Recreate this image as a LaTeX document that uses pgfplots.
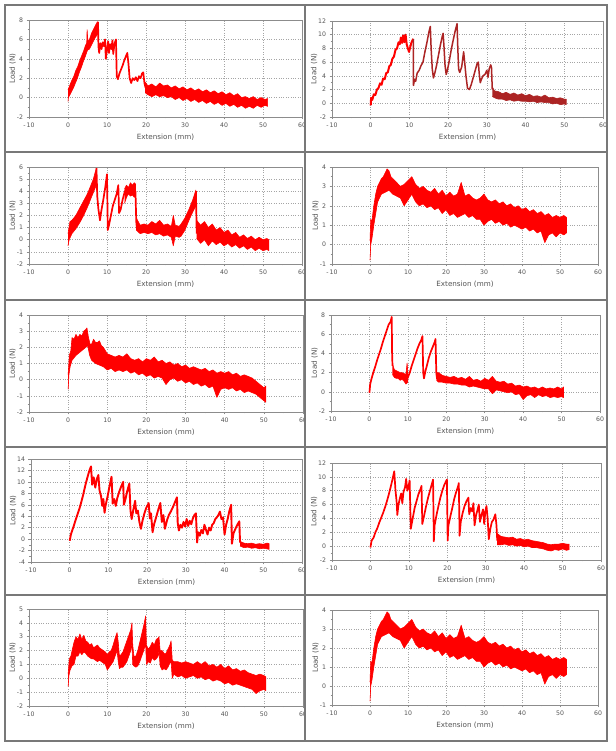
\documentclass[border=0pt]{standalone}
\usepackage{pgfplots}
\pgfplotsset{compat=1.18}
\usepackage{pgfplotstable}
\usepackage{fontspec}
\setmainfont{DejaVu Sans}
\definecolor{txt}{RGB}{85,85,85}
\definecolor{framec}{RGB}{140,140,140}
\definecolor{gridc}{RGB}{165,165,165}
\definecolor{dred}{RGB}{172,36,36}
\definecolor{brd}{RGB}{120,120,120}
\pgfplotsset{
 panel/.style={
  scale only axis, xmin=-10, xmax=60,
  xtick={-10,0,10,20,30,40,50,60},
  xticklabels={-\,10,0,10,20,30,40,50,60},
  minor x tick num=1, minor y tick num=1,
  xtick pos=left, ytick pos=left,
  tick align=outside,
  major tick length=2.5pt, minor tick length=1.5pt,
  grid=major,
  major grid style={dotted, gridc, line width=0.5pt},
  axis line style={framec, line width=0.6pt},
  tick style={framec, line width=0.5pt},
  ticklabel style={font=\fontsize{6.2}{7}\selectfont, text=txt},
  /pgf/number format/assume math mode=true,
  xlabel={Extension (mm)}, ylabel={Load (N)},
  label style={font=\fontsize{7.2}{8}\selectfont, text=txt},
  ylabel shift=-6pt,
  xlabel shift=-1pt,
  no markers,
  anchor=south west,
 },
 sawl/.style={red, line width=1.7pt, line join=round},
 band/.style={red, fill=red, line width=0.6pt, line join=round},
}
\pgfplotstableread[row sep=\\]{
x y\\
0 0.2\\ 0.2 1.3\\ 0.5 1.2\\ 1 2.0\\ 1.5 2.6\\ 2 3.0\\ 2.5 3.2\\ 3 3.4\\ 3.5 3.5\\ 4 3.7\\ 4.5 3.9\\ 5 3.8\\ 5.5 3.5\\ 6 3.4\\ 7 3.2\\ 8 3.0\\ 9 3.1\\ 10 3.3\\ 11 3.5\\ 12 3.1\\ 13 2.9\\ 14 3.0\\ 15 2.8\\ 16 2.7\\ 17 2.9\\ 18 2.6\\ 19 2.8\\ 20 2.5\\ 21 2.7\\ 22 2.5\\ 23 2.6\\ 24 3.2\\ 25 2.5\\ 26 2.6\\ 27 2.4\\ 28 2.3\\ 29 2.4\\ 30 2.6\\ 31 2.3\\ 32 2.2\\ 33 2.3\\ 34 2.1\\ 35 2.2\\ 36 2.0\\ 37 2.1\\ 38 1.9\\ 39 2.0\\ 40 1.8\\ 41 1.9\\ 42 1.7\\ 43 1.8\\ 44 1.6\\ 45 1.7\\ 46 1.5\\ 47 1.6\\ 48 1.4\\ 49 1.5\\ 50 1.4\\ 51 1.5\\ 51.7 1.4\\
51.7 0.6\\ 51 0.5\\ 50 0.6\\ 49 0.4\\ 48 0.6\\ 47 0.5\\ 46 0.1\\ 45 0.7\\ 44 0.6\\ 43 0.8\\ 42 0.7\\ 41 0.9\\ 40 0.8\\ 39 0.9\\ 38 1.0\\ 37 0.9\\ 36 1.1\\ 35 1.0\\ 34 1.2\\ 33 1.1\\ 32 1.3\\ 31 1.2\\ 30 1.0\\ 29 1.3\\ 28 1.3\\ 27 1.5\\ 26 1.4\\ 25 1.6\\ 24 1.5\\ 23 1.4\\ 22 1.6\\ 21 1.5\\ 20 1.8\\ 19 1.6\\ 18 1.9\\ 17 1.8\\ 16 2.0\\ 15 1.9\\ 14 2.1\\ 13 2.0\\ 12 2.2\\ 11 2.6\\ 10 2.3\\ 9 2.0\\ 8 2.4\\ 7 2.5\\ 6 2.6\\ 5 2.8\\ 4 2.7\\ 3 2.6\\ 2 2.2\\ 1 1.0\\ 0.5 0.3\\ 0.2 0\\ 0 -0.8\\
}\bandfour
\begin{document}
\begin{tikzpicture}
\useasboundingbox (0pt,0pt) rectangle (615pt,751pt);
\fill[white] (0pt,0pt) rectangle (615pt,751pt);
% ---------------- left column ----------------
\begin{scope}
\clip (5pt,10pt) rectangle (305pt,746pt);
% P1
\begin{axis}[panel, at={(29pt,634pt)}, width=273pt, height=97pt, ymin=-2, ymax=8, ytick={-2,0,...,8}]
\addplot[band] coordinates {(0,0.8) (0.5,1.3) (1,1.8) (1.5,2.2) (2,2.8) (2.5,3.2) (3,3.8) (3.5,4.3) (4,4.8) (4.5,5.4) (4.8,5.6) (4.9,7.0) (5.1,5.8) (5.5,6.0) (6,6.6) (6.5,7.0) (7,7.4) (7.5,7.8) (7.7,7.8) (7.7,6.6) (7,6.2) (6.5,5.8) (6,5.4) (5.5,5.0) (5,4.9) (4.5,4.3) (4,3.8) (3.5,3.2) (3,2.7) (2.5,2.1) (2,1.6) (1.5,1.1) (1,0.7) (0.5,0.3) (0.1,0.0) (0,-0.4)};
\addplot[sawl] coordinates {(7.7,7.8) (7.8,5.3) (8.0,4.6) (8.3,5.6) (8.6,5.0) (8.9,5.7) (9.2,5.3) (9.5,6.0) (9.7,4.0) (10.0,5.0) (10.3,5.8) (10.5,4.6) (10.8,5.5) (11.1,5.0) (11.4,5.9) (11.6,4.5) (11.9,5.5) (12.3,6.0) (12.5,2.2) (12.8,1.9) (13.2,2.5) (13.6,2.9) (14.0,3.3) (14.4,3.8) (14.8,4.2) (15.2,4.6) (15.5,3.5) (15.8,2.0) (16.2,1.5) (16.6,2.0) (17.0,1.8) (17.4,2.1) (17.8,1.7) (18.2,2.2) (18.6,2.0) (19.0,2.5) (19.3,2.6) (19.6,1.5) (19.9,1.0)};
\addplot[band] coordinates {(19.8,1.6) (20.5,1.2) (21.5,1.4) (22.5,1.1) (23.5,1.5) (24.5,1.2) (25.5,1.3) (26.5,1.0) (27.5,1.2) (28.5,0.9) (29.5,1.1) (30.5,0.8) (31.5,1.0) (32.5,0.7) (33.5,0.9) (34.5,0.6) (35.5,0.8) (36.5,0.5) (37.5,0.7) (38.5,0.4) (39.5,0.6) (40.5,0.3) (41.5,0.5) (42.5,0.2) (43.5,0.4) (44.5,0.0) (45.5,0.1) (46.5,-0.1) (47.5,0.1) (48.5,-0.2) (49.5,0.0) (50.5,-0.2) (51.2,-0.1)
 (51.2,-0.9) (50.5,-0.8) (49.5,-1.0) (48.5,-0.8) (47.5,-1.1) (46.5,-0.9) (45.5,-1.1) (44.5,-0.8) (43.5,-1.0) (42.5,-0.7) (41.5,-0.9) (40.5,-0.6) (39.5,-0.8) (38.5,-0.5) (37.5,-0.7) (36.5,-0.4) (35.5,-0.6) (34.5,-0.3) (33.5,-0.5) (32.5,-0.2) (31.5,-0.4) (30.5,-0.1) (29.5,-0.3) (28.5,0.0) (27.5,-0.2) (26.5,0.1) (25.5,0.0) (24.5,0.2) (23.5,0.1) (22.5,0.3) (21.5,0.1) (20.5,0.3) (19.8,0.5)};
\end{axis}
% P3
\begin{axis}[panel, at={(29pt,487pt)}, width=273pt, height=97pt, ymin=-2, ymax=6, ytick={-2,-1,...,6}]
\addplot[band] coordinates {(0,0.5) (0.5,1.5) (1,1.6) (2,2.0) (3,2.6) (4,3.2) (5,3.8) (6,4.6) (6.5,5.0) (7,5.6) (7.3,5.9) (7.3,4.5) (7,4.3) (6,3.5) (5,2.7) (4,2.0) (3,1.4) (2,0.9) (1,0.5) (0.3,0) (0,-0.5)};
\addplot[sawl] coordinates {(7.3,5.9) (7.5,3.6) (7.8,2.5) (8.2,1.6) (8.5,2.3) (9.0,3.2) (9.5,4.2) (10.0,5.4) (10.2,0.8) (10.5,1.2) (11,2.0) (11.5,2.8) (12,3.3) (12.5,3.8) (12.9,4.5) (13.1,2.2) (13.5,2.5) (14,3.3) (14.5,3.9) (15,4.3)};
\addplot[band] coordinates {(14.5,4.2) (15,4.5) (15.5,4.3) (16,4.7) (16.5,4.5) (17,4.7) (17.3,4.6) (17.3,3.6) (17,3.5) (16.5,3.7) (16,3.6) (15.5,3.8) (15,3.5) (14.5,3.0)};
\addplot[sawl] coordinates {(17.3,4.0) (17.5,1.5) (17.7,0.8)};
\addplot[band] coordinates {(17.5,1.8) (18.5,1.2) (19.5,1.3) (20.5,1.2) (21.5,1.5) (22.5,1.3) (23.5,1.6) (24.5,1.2) (25.5,1.3) (26.5,1.1) (27,2.0) (27.5,1.2) (28.5,1.1) (29,1.3) (30,1.8) (31,2.5) (32,3.3) (32.8,4.1) (32.8,2.8) (32,2.3) (31,1.6) (30,0.8) (29,0.3) (28.5,0.2) (27.5,0.3) (27,-0.5) (26.5,0.2) (25.5,0.4) (24.5,0.3) (23.5,0.5) (22.5,0.4) (21.5,0.6) (20.5,0.5) (19.5,0.6) (18.5,0.5) (17.5,0.8)};
\addplot[sawl] coordinates {(32.8,4.0) (33,0.5)};
\addplot[band] coordinates {(33,1.6) (34,1.2) (35,1.5) (36,1.0) (37,1.3) (38,0.8) (39,1.0) (40,0.6) (41,0.8) (42,0.4) (43,0.6) (44,0.2) (45,0.4) (46,0.1) (47,0.3) (48,0.0) (49,0.2) (50,0.0) (51,0.1) (51.5,0.0) (51.5,-0.9) (51,-0.8) (50,-0.9) (49,-0.7) (48,-0.9) (47,-0.6) (46,-0.8) (45,-0.5) (44,-0.7) (43,-0.4) (42,-0.6) (41,-0.3) (40,-0.5) (39,-0.2) (38,-0.4) (37,-0.1) (36,-0.5) (35,0.0) (34,-0.3) (33,0.1)};
\end{axis}
% P5
\begin{axis}[panel, at={(29pt,339pt)}, width=274pt, height=97pt, ymin=-2, ymax=4, ytick={-2,-1,...,4}]
\addplot[band] coordinates {(0,0.3) (0.3,1.5) (0.7,1.8) (1,2.6) (1.5,2.5) (2,2.8) (2.5,2.6) (3,2.8) (3.5,2.7) (4,3.0) (4.5,3.1) (4.8,3.2) (5.2,2.6) (5.6,2.2) (6,2.2) (6.5,2.5) (7,2.3) (7.5,2.3) (8,2.4) (8.5,2.1) (9,2.0) (10,1.6) (11,1.5) (12,1.4) (13,1.5) (14,1.4) (15,1.6) (16,1.3) (17,1.2) (18,1.3) (19,1.1) (20,1.3) (21,1.2) (22,1.4) (23,1.1) (24,1.2) (25,1.0) (26,1.1) (27,0.9) (28,1.0) (29,0.8) (30,0.9) (31,0.7) (32,0.8) (33,0.7) (34,0.6) (35,0.7) (36,0.5) (37,0.6) (38,0.4) (39,0.5) (40,0.4) (41,0.5) (42,0.3) (43,0.4) (44,0.2) (45,0.3) (46,0.2) (47,0.1) (48,-0.1) (49,-0.3) (50,-0.5) (50.5,-0.4)
 (50.5,-1.4) (50,-1.3) (49,-1.1) (48,-0.9) (47,-0.8) (46,-0.7) (45,-0.8) (44,-0.6) (43,-0.7) (42,-0.5) (41,-0.6) (40,-0.5) (39,-0.6) (38,-1.1) (37,-0.4) (36,-0.5) (35,-0.3) (34,-0.4) (33,-0.2) (32,-0.3) (31,-0.1) (30,-0.2) (29,0.0) (28,-0.1) (27,0.1) (26,0.0) (25,-0.3) (24,0.1) (23,0.2) (22,0.1) (21,0.3) (20,0.2) (19,0.4) (18,0.3) (17,0.5) (16,0.4) (15,0.6) (14,0.5) (13,0.6) (12,0.5) (11,0.7) (10,0.6) (9,0.8) (8,0.9) (7,1.0) (6,1.2) (5.5,1.5) (5,2.1) (4.5,2.0) (4,1.9) (3,1.7) (2,1.5) (1,1.2) (0.5,0.8) (0.2,0.3) (0,-0.6)};
\end{axis}
% P7
\begin{axis}[panel, at={(31pt,189pt)}, width=271pt, height=103pt, ymin=-4, ymax=14, ytick={-4,-2,...,14}]
\addplot[sawl, line width=1.9pt] coordinates {(0,-0.3) (0.3,0.8) (1,2.2) (1.5,3.3) (2,4.3) (2.5,5.3) (3,6.5) (3.5,7.8) (4,9.3) (4.5,10.6) (5,11.8) (5.5,12.7) (5.8,9.5) (6.2,10.8) (6.6,9.0) (7.0,10.5) (7.4,11.2) (7.7,8.5) (8.1,7.5) (8.4,5.8) (8.7,7.0) (9.0,4.6) (9.3,6.0) (9.8,7.5) (10.3,9.3) (10.8,10.9) (11.1,6.2) (11.5,7.0) (11.9,5.8) (12.3,7.2) (12.8,8.3) (13.3,9.2) (13.8,10.0) (14.0,6.0) (14.4,7.0) (14.9,8.5) (15.4,9.7) (15.7,5.0) (16.0,3.5) (16.4,5.0) (16.9,6.7) (17.2,4.5) (17.6,5.0) (18.0,3.0) (18.4,1.8) (18.8,3.2) (19.3,4.5) (19.8,5.5) (20.4,6.3) (20.7,3.6) (21.0,4.5) (21.4,1.2) (21.8,2.6) (22.4,4.0) (22.9,5.2) (23.4,6.3) (23.8,3.0) (24.2,4.2) (24.6,1.8) (25.1,3.2) (25.6,4.2) (26.1,4.8) (26.6,5.5) (27.1,6.3) (27.7,7.3) (27.9,2.8) (28.2,1.5) (28.6,2.5) (29.0,2.0) (29.4,3.0) (29.8,2.2) (30.2,3.5) (30.6,2.3) (31.0,3.2) (31.4,2.6) (31.8,3.6) (32.2,4.2) (32.6,4.5) (32.9,-0.6) (33.2,1.2) (33.6,0.6) (34.0,1.6) (34.4,1.0) (34.8,2.5) (35.2,1.6) (35.6,0.8) (36.0,2.0) (36.4,1.5) (36.8,2.5) (37.2,2.8) (37.6,3.5) (38.0,3.8) (38.4,4.2) (38.8,4.8) (39.2,3.5) (39.6,3.8) (40.0,0.8) (40.4,2.5) (40.8,3.5) (41.2,4.8) (41.7,6.0) (41.9,-0.8) (42.3,1.0) (42.8,1.8) (43.3,2.5) (43.8,3.1) (44.0,-0.6)};
\addplot[band] coordinates {(44,-0.4) (45,-0.7) (46,-0.8) (47,-0.7) (48,-0.9) (49,-0.8) (50,-0.9) (51,-0.7) (51.5,-0.8) (51.5,-1.8) (51,-1.7) (50,-1.6) (49,-1.7) (48,-1.5) (47,-1.6) (46,-1.4) (45,-1.5) (44,-1.2)};
\end{axis}
% P9
\begin{axis}[panel, at={(29pt,45pt)}, width=274pt, height=97pt, ymin=-2, ymax=5, ytick={-2,-1,...,5}]
\addplot[band] coordinates {(0,0.3) (0.3,1.4) (0.7,1.6) (1,2.0) (1.5,2.6) (2,3.0) (2.5,2.8) (3,3.2) (3.5,2.8) (4,3.1) (4.5,2.7) (5,2.6) (5.5,2.4) (6,2.5) (6.5,2.2) (7,2.3) (7.5,2.4) (8,2.2) (8.5,2.1) (9,2.0) (9.5,1.9) (10,1.7) (10.5,1.9) (11,2.0) (11.5,2.4) (12,2.9) (12.5,3.3) (12.8,2.6) (13.1,1.6) (13.5,1.7) (14,1.9) (14.5,2.3) (15,2.7) (15.5,3.1) (16,3.5) (16.3,4.0) (16.5,2.4) (16.8,1.6) (17.3,1.6) (17.8,2.0) (18.3,2.6) (18.8,3.2) (19.3,3.8) (19.8,4.5) (20.0,2.4) (20.5,2.1) (21,2.3) (21.5,2.6) (22,2.4) (22.5,2.8) (23,2.9) (23.2,3.0) (23.5,2.0) (24,2.0) (24.5,1.8) (25,1.8) (25.5,2.1) (26,2.4) (26.3,2.7) (26.6,1.3) (27,1.2) (28,1.2) (29,1.1) (30,1.2) (31,1.1) (32,1.0) (33,1.2) (34,1.0) (35,1.2) (36,0.9) (37,1.0) (38,0.8) (39,1.0) (40,0.7) (41,0.9) (42,0.6) (43,0.7) (44,0.5) (45,0.6) (46,0.4) (47,0.3) (48,0.2) (49,0.3) (50,0.2) (50.5,0.1)
 (50.5,-0.9) (50,-0.8) (49,-0.9) (48,-1.1) (47,-0.8) (46,-0.7) (45,-0.6) (44,-0.5) (43,-0.4) (42,-0.5) (41,-0.3) (40,-0.4) (39,-0.2) (38,-0.1) (37,-0.2) (36,0.0) (35,-0.1) (34,0.1) (33,0.0) (32,0.2) (31,0.1) (30,0.0) (29,0.2) (28,0.1) (27,0.3) (26.6,0.0) (26.3,1.2) (26,1.1) (25.5,0.8) (25,0.6) (24.5,0.7) (24,0.6) (23.5,0.9) (23.2,2.0) (23,1.6) (22.5,1.4) (22,1.3) (21.5,1.5) (21,1.1) (20.5,1.2) (20,1.0) (19.8,2.5) (19.3,2.0) (18.8,1.6) (18.3,1.2) (17.8,0.9) (17.3,0.8) (16.8,0.9) (16.5,1.0) (16.3,2.5) (16,2.0) (15.5,1.6) (15,1.2) (14.5,1.0) (14,0.8) (13.5,0.8) (13.1,0.7) (12.8,1.2) (12.5,2.0) (12,1.6) (11.5,1.2) (11,1.0) (10.5,0.8) (10,0.6) (9.5,1.0) (9,1.1) (8.5,1.2) (8,1.3) (7.5,1.2) (7,1.3) (6.5,1.4) (6,1.4) (5.5,1.5) (5,1.6) (4.5,1.8) (4,1.9) (3.5,1.7) (3,1.9) (2.5,1.6) (2,1.6) (1.5,1.0) (1,0.9) (0.5,0.6) (0.2,0.2) (0,-0.6)};
\end{axis}
\end{scope}
% ---------------- right column ----------------
\begin{scope}
\clip (305pt,10pt) rectangle (607pt,746pt);
% P2
\begin{axis}[panel, at={(332pt,634pt)}, width=271pt, height=96pt, ymin=-2, ymax=12, ytick={-2,0,...,12}]
\addplot[sawl, line width=2pt] coordinates {(0,-0.3) (0.1,0.8) (0.4,0.5) (0.8,1.3) (1.2,1.2) (1.6,2.0) (2.0,2.2) (2.4,2.9) (2.8,2.7) (3.2,3.6) (3.6,3.5) (4.0,4.4) (4.4,4.5) (4.8,5.4) (5.2,5.6) (5.6,6.5) (6.0,6.8) (6.4,7.8) (6.8,8.0) (7.2,8.9) (7.5,8.6) (7.8,9.6) (8.1,8.8) (8.4,9.9) (8.7,8.9) (9.0,10.0) (9.3,8.6) (9.6,8.0) (9.9,7.5) (10.2,8.2) (10.5,8.8) (10.8,9.2) (11.0,9.4)};
\addplot[sawl, dred, line width=1.5pt] coordinates {(11.0,9.4) (11.05,2.6) (11.3,3.5) (11.6,3.2) (12.0,4.4) (12.5,4.8) (13.0,5.5) (13.5,6.0) (14.0,7.5) (14.5,8.8) (15.0,10.3) (15.4,11.2) (15.6,8.0) (15.9,5.0) (16.2,3.7) (16.6,4.5) (17.0,5.5) (17.5,7.0) (18.0,8.5) (18.5,9.8) (18.7,10.2) (18.9,8.5) (19.2,5.5) (19.5,4.2) (19.8,4.8) (20.3,6.2) (20.8,7.8) (21.3,9.2) (21.8,10.5) (22.3,11.6) (22.5,8.0) (22.7,5.0) (23.0,4.5) (23.5,5.3) (24.0,7.5) (24.3,5.8) (24.6,4.0) (25.0,2.2) (25.5,2.0) (26.0,2.8) (26.5,3.8) (27.0,4.8) (27.5,5.8) (27.8,6.0) (28.0,4.5) (28.3,3.0) (28.6,3.5) (29.0,4.0) (29.5,4.2) (30.0,4.8) (30.3,3.8) (30.6,5.0) (31.0,5.6) (31.2,5.2) (31.4,2.0)};
\addplot[band, dred, fill=dred] coordinates {(31.4,2.4) (32,1.8) (33,1.7) (34,1.4) (35,1.6) (36,1.3) (37,1.5) (38,1.2) (39,1.4) (40,1.1) (41,1.3) (42,1.0) (43,1.1) (44,0.9) (45,1.2) (46,0.8) (47,0.9) (48,0.7) (49,0.8) (50,0.6) (50.5,0.6) (50.5,-0.2) (50,-0.1) (49,-0.2) (48,0.0) (47,-0.1) (46,0.1) (45,0.1) (44,0.2) (43,0.1) (42,0.3) (41,0.2) (40,0.3) (39,0.3) (38,0.4) (37,0.3) (36,0.5) (35,0.4) (34,0.6) (33,0.6) (32,0.8) (31.4,1.0)};
\end{axis}
% P4
\begin{axis}[panel, at={(332pt,487pt)}, width=266pt, height=97pt, ymin=-1, ymax=4, ytick={-1,0,...,4}]
\addplot[band] table {\bandfour};
\end{axis}
% P6
\begin{axis}[panel, at={(331pt,340pt)}, width=269pt, height=96pt, ymin=-2, ymax=8, ytick={-2,0,...,8}]
\addplot[sawl] coordinates {(0,-0.1) (0.2,0.8) (0.5,1.3) (1,2.0) (1.5,2.6) (2,3.3) (2.5,3.9) (3,4.5) (3.5,5.2) (4,5.8) (4.5,6.4) (5,7.0) (5.5,7.3) (5.8,7.8) (5.9,4.0) (6.0,2.7)};
\addplot[band] coordinates {(6,2.9) (6.5,2.3) (7,2.2) (7.5,2.1) (8,2.0) (8.5,2.0) (9,1.9) (9.5,1.8) (9.8,3.0) (10,2.0) (10,1.0) (9.5,0.8) (9,1.1) (8.5,1.3) (8,1.2) (7.5,1.4) (7,1.4) (6.5,1.5) (6,1.8)};
\addplot[sawl] coordinates {(9.9,1.4) (10.5,2.0) (11,2.7) (11.5,3.3) (12,3.9) (12.5,4.5) (13,5.0) (13.5,5.4) (13.8,5.8) (14.0,2.0) (14.2,1.4) (14.6,2.2) (15,2.8) (15.5,3.6) (16,4.2) (16.5,4.7) (17,5.2) (17.2,5.5) (17.4,2.0) (17.6,1.3)};
\addplot[band] coordinates {(17.5,2.0) (18,2.0) (19,1.7) (20,1.6) (21,1.5) (22,1.6) (23,1.4) (24,1.5) (25,1.3) (26,1.6) (27,1.2) (28,1.3) (29,1.1) (30,1.4) (31,1.2) (32,1.6) (33,1.1) (34,1.0) (35,1.1) (36,0.8) (37,0.9) (38,0.6) (39,0.7) (40,0.5) (41,0.6) (42,0.4) (43,0.5) (44,0.3) (45,0.5) (46,0.3) (47,0.4) (48,0.3) (49,0.5) (50,0.3) (50.5,0.5) (50.5,-0.6) (50,-0.5) (49,-0.6) (48,-0.5) (47,-0.6) (46,-0.4) (45,-0.5) (44,-0.3) (43,-0.6) (42,-0.3) (41,-0.4) (40,-0.8) (39,-0.2) (38,-0.3) (37,0.0) (36,-0.1) (35,0.0) (34,0.1) (33,0.2) (32,-0.2) (31,0.3) (30,0.3) (29,0.4) (28,0.5) (27,0.6) (26,0.5) (25,0.7) (24,0.7) (23,0.8) (22,0.8) (21,0.9) (20,0.9) (19,1.0) (18,1.0) (17.5,1.2)};
\end{axis}
% P8
\begin{axis}[panel, at={(332pt,191pt)}, width=269pt, height=97pt, ymin=-2, ymax=12, ytick={-2,0,...,12}]
\addplot[sawl] coordinates {(0,-0.2) (0.3,0.8) (0.8,1.2) (1.3,2.0) (1.8,2.6) (2.3,3.4) (2.8,4.1) (3.3,4.8) (3.8,5.6) (4.3,6.5) (4.8,7.5) (5.3,8.6) (5.8,9.8) (6.2,10.8) (6.5,8.2) (6.8,6.5) (7.0,4.5) (7.3,6.0) (7.7,7.0) (8.0,7.6) (8.3,6.2) (8.6,7.8) (9.0,8.5) (9.3,9.7) (9.6,8.0) (9.9,8.5) (10.2,9.5) (10.5,2.5) (11.0,4.0) (11.5,5.5) (12.0,6.5) (12.5,7.5) (13.0,8.2) (13.3,8.7) (13.5,3.2) (14.0,4.5) (14.5,5.8) (15.0,7.0) (15.5,8.0) (16.0,9.0) (16.3,9.6) (16.5,0.7) (16.7,3.0) (17.2,4.5) (17.7,5.8) (18.2,7.0) (18.7,8.0) (19.2,8.8) (19.7,9.4) (19.9,9.6) (20.1,0.8) (20.3,3.0) (20.8,4.3) (21.3,5.5) (21.8,6.8) (22.3,7.8) (22.8,8.6) (23.0,9.1) (23.2,1.5) (23.5,3.5) (24.0,4.8) (24.5,5.8) (25.0,6.5) (25.5,7.0) (25.7,4.6) (26.1,5.5) (26.5,5.0) (26.8,6.2) (27.1,3.0) (27.5,4.5) (27.9,5.3) (28.2,6.0) (28.5,3.5) (28.9,4.5) (29.3,5.3) (29.6,3.2) (29.9,5.0) (30.2,5.8) (30.5,4.0) (30.8,1.0) (31.2,2.5) (31.6,3.5) (32.0,3.8) (32.5,4.6) (32.8,3.0) (33.0,0.8)};
\addplot[band] coordinates {(33,1.8) (34,1.4) (35,1.3) (36,1.2) (37,1.3) (38,1.0) (39,1.1) (40,0.9) (41,1.0) (42,0.8) (43,0.7) (44,0.6) (45,0.5) (46,0.3) (47,0.2) (48,0.3) (49,0.3) (50,0.4) (51,0.3) (51.7,0.3) (51.7,-0.5) (51,-0.6) (50,-0.4) (49,-0.6) (48,-0.5) (47,-0.7) (46,-0.6) (45,-0.4) (44,-0.3) (43,-0.2) (42,-0.2) (41,0.0) (40,-0.1) (39,0.1) (38,0.0) (37,0.2) (36,0.1) (35,0.3) (34,0.2) (33,0.2)};
\end{axis}
% P10
\begin{axis}[panel, at={(332pt,46pt)}, width=266pt, height=95pt, ymin=-1, ymax=4, ytick={-1,0,...,4}]
\addplot[band] table {\bandfour};
\end{axis}
\end{scope}
% cell borders
\draw[brd, line width=1.2pt] (5pt,10pt) rectangle (607pt,746pt);
\draw[brd, line width=1.2pt] (305pt,10pt) -- (305pt,746pt);
\foreach \yy in {599,451,304,156} \draw[brd, line width=1.2pt] (5pt,\yy pt) -- (607pt,\yy pt);
\end{tikzpicture}
\end{document}
